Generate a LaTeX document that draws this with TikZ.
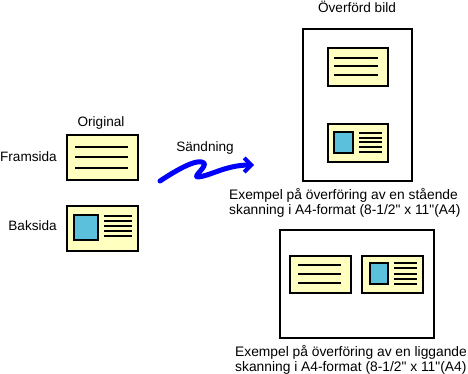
\documentclass[tikz,border=0pt]{standalone}
\usepackage{fontspec}
\setmainfont{Liberation Sans}
\usetikzlibrary{arrows.meta}
\definecolor{cardyellow}{HTML}{FFFFC0}
\definecolor{picblue}{HTML}{5BC0DC}
\definecolor{arrowblue}{HTML}{0000FF}
\newcommand{\qq}{\XeTeXglyph\XeTeXcharglyph"22\relax}
\begin{document}
\begin{tikzpicture}[x=1pt,y=-1pt,
  card/.style={draw=black,line width=2pt,fill=cardyellow,rectangle,inner sep=0pt,anchor=north west},
  sheet/.style={draw=black,line width=2pt,fill=white,rectangle,inner sep=0pt,anchor=north west},
  photo/.style={draw=black,line width=1.8pt,fill=picblue},
  txtline/.style={draw=black,line width=2pt},
  lbl/.style={font=\fontsize{13.6}{15.5}\selectfont,inner sep=0pt},
  captext/.style={font=\fontsize{13.8}{15.5}\selectfont,inner sep=0pt,align=left,anchor=base west}]
\useasboundingbox (0,0) rectangle (468,374);
% original
\node[lbl,anchor=base] (orig) at (101,127) {Original};
\node[lbl,anchor=base east] (fram) at (57,162) {Framsida};
\node[lbl,anchor=base east] (bak) at (57,230) {Baksida};
\node[card,minimum width=71pt,minimum height=45pt] (front) at (66,134) {};
\foreach \y in {147,157.5,168} \draw[txtline] (75,\y) -- (128,\y);
\node[card,minimum width=71pt,minimum height=45pt] (back) at (66,205) {};
\draw[photo] (74,215) rectangle (98,240);
\foreach \y in {216,221,226,231,236} \draw[txtline] (104,\y) -- (132,\y);
% arrow
\node[lbl,anchor=base] (send) at (205,152) {Sändning};
\coordinate (as) at (160,181);
\coordinate (ae) at (254,165);
\draw[arrowblue,line width=5pt,line cap=round,line join=round,-{Straight Barb[length=7pt,width=14pt,line width=4pt]}]
  (as) .. controls (178,169) and (198,158) .. (204,163)
  .. controls (207,167) and (192,177) .. (198,177)
  .. controls (210,176) and (226,165) .. (ae);
% portrait
\node[lbl,anchor=base] (title) at (357,13) {Överförd bild};
\node[sheet,minimum width=109pt,minimum height=152pt] (port) at (302,28) {};
\node[card,minimum width=60pt,minimum height=38pt] (pc1) at (327,47) {};
\foreach \y in {58,66.5,75} \draw[txtline] (334,\y) -- (378,\y);
\node[card,minimum width=60pt,minimum height=38pt] (pc2) at (327,123) {};
\draw[photo] (334,132) rectangle (353,153);
\foreach \y in {133,137.75,142.5,147.25,152} \draw[txtline] (359,\y) -- (382,\y);
\node[captext] (c1) at (229,214.5) {Exempel på överföring av en stående\\skanning i A4-format (8-1/2\qq{} x 11\qq(A4)};
% landscape
\node[sheet,minimum width=154pt,minimum height=108pt] (land) at (279,229) {};
\node[card,minimum width=61pt,minimum height=37pt] (lc1) at (289,255) {};
\foreach \y in {265,274,283} \draw[txtline] (298,\y) -- (341,\y);
\node[card,minimum width=61pt,minimum height=37pt] (lc2) at (361,255) {};
\draw[photo] (370,263) rectangle (388,284);
\foreach \y in {263,268.25,273.5,278.75,284} \draw[txtline] (394,\y) -- (417,\y);
\node[captext] (c2) at (235,371.5) {Exempel på överföring av en liggande\\skanning i A4-format (8-1/2\qq{} x 11\qq(A4)};
\end{tikzpicture}
\end{document}
